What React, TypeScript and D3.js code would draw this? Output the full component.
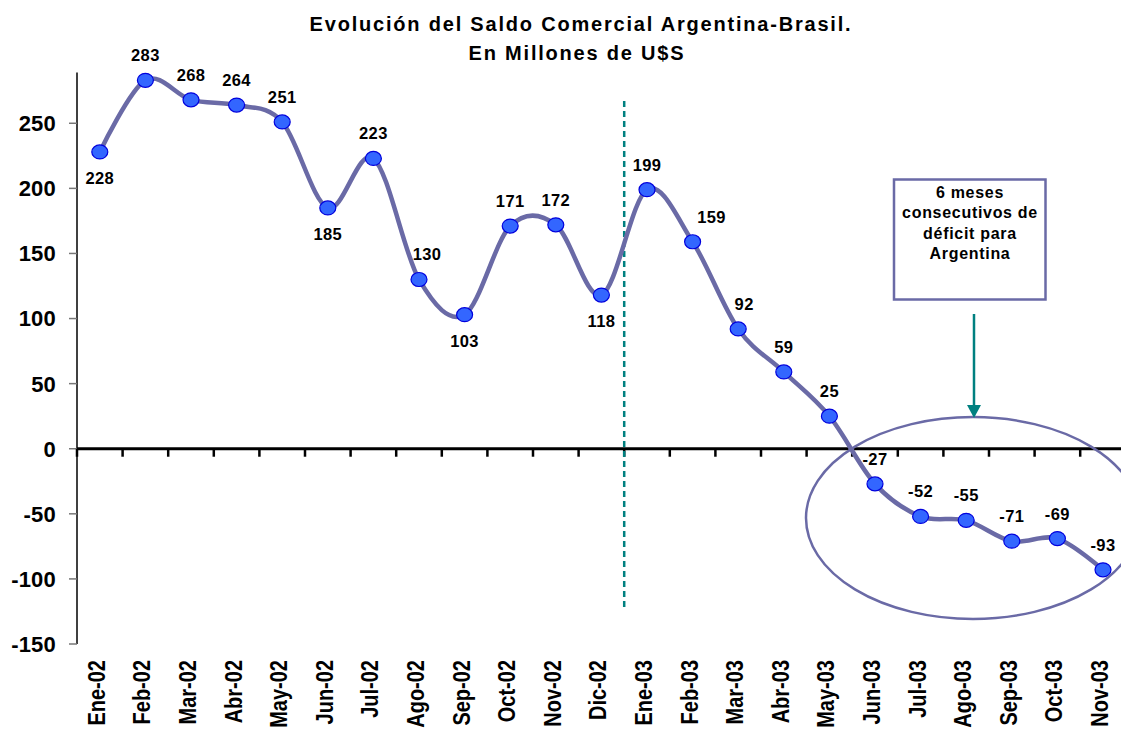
import React from 'react';
import * as d3 from 'd3';

const months = ['Ene-02','Feb-02','Mar-02','Abr-02','May-02','Jun-02','Jul-02','Ago-02','Sep-02','Oct-02','Nov-02','Dic-02','Ene-03','Feb-03','Mar-03','Abr-03','May-03','Jun-03','Jul-03','Ago-03','Sep-03','Oct-03','Nov-03'];
const saldo = [228,283,268,264,251,185,223,130,103,171,172,118,199,159,92,59,25,-27,-52,-55,-71,-69,-93];
const labelBelow = [true,false,false,false,false,true,false,false,true,false,false,true,false,false,false,false,false,false,false,false,false,false,false];
const labelShift = [0,0,0,0,0,0,0,8,0,0,0,0,0,19,6,0,0,0,0,0,0,0,0];
const yTicks = [250,200,150,100,50,0,-50,-100,-150];
const titleLines = ['Evolución del Saldo Comercial Argentina-Brasil.', 'En Millones de U$S'];
const noteLines = ['6 meses', 'consecutivos de', 'déficit para', 'Argentina'];

const W = 1121, H = 729;
const FONT = '"Liberation Sans", Arial, Helvetica, sans-serif';
const LINE_COLOR = '#6a6aa6';
const TEAL = '#008080';

export default function App() {
  const x = d3.scaleBand<string>().domain(months).range([77, 77 + 45.6 * months.length]).padding(0);
  const y = d3.scaleLinear().domain([-150, 289]).range([644, 72.5]);
  const cx = (i: number) => (x(months[i]) as number) + x.bandwidth() / 2;

  const line = d3.line<number>()
    .x((_, i) => cx(i))
    .y(d => y(d))
    .curve(d3.curveCardinal.tension(0));

  const boundaries = months.map((m) => x(m) as number);
  const splitX = x('Ene-03') as number;
  const ellipse = { cx: 973, cy: 518, rx: 167, ry: 101 };

  return (
    <svg width={W} height={H} style={{ position: 'absolute', left: 0, top: 0, display: 'block', background: '#fff' }} fontFamily={FONT}>
      <rect x={0} y={0} width={W} height={H} fill="#fff" />
      {/* Title */}
      <text x={581} y={31} textAnchor="middle" fontSize={20} fontWeight="bold" letterSpacing={1.8} fill="#000">{titleLines[0]}</text>
      <text x={577} y={60} textAnchor="middle" fontSize={20} fontWeight="bold" letterSpacing={1.8} fill="#000">{titleLines[1]}</text>

      {/* Y axis */}
      <line x1={77} x2={77} y1={y(289)} y2={y(-150)} stroke="#000" strokeWidth={1.5} />
      {yTicks.map(t => (
        <g key={t}>
          <line x1={69} x2={77} y1={y(t)} y2={y(t)} stroke="#777" strokeWidth={1.5} />
          <text x={56} y={y(t)} dy="0.36em" textAnchor="end" fontSize={22} fontWeight="bold" letterSpacing={0.2} fill="#000">{t}</text>
        </g>
      ))}

      {/* X axis */}
      <line x1={77} x2={W} y1={y(0)} y2={y(0)} stroke="#000" strokeWidth={3} />
      {boundaries.map((b, i) => (
        <line key={i} x1={b} x2={b} y1={y(0)} y2={y(0) + 8} stroke="#000" strokeWidth={2.5} />
      ))}
      {months.map((m, i) => (
        <text key={m} transform={`translate(${cx(i) - 3},660) rotate(-90) scale(1,1.15)`} dy="0.35em" textAnchor="end" fontSize={20} fontWeight="bold" fill="#000">{m}</text>
      ))}

      {/* Dashed separator */}
      <line x1={splitX} x2={splitX} y1={101} y2={609} stroke={TEAL} strokeWidth={2.5} strokeDasharray="6 4" />

      {/* Series */}
      <path d={line(saldo) || ''} fill="none" stroke={LINE_COLOR} strokeWidth={4.5} />
      {saldo.map((v, i) => (
        <ellipse key={i} cx={cx(i)} cy={y(v)} rx={8} ry={7} fill="#3366ff" stroke="#0000dd" strokeWidth={1.2} />
      ))}
      {saldo.map((v, i) => (
        <text key={'l' + i} x={cx(i) + labelShift[i]} y={y(v) + (labelBelow[i] ? 32 : -19)} textAnchor="middle" fontSize={16.5} fontWeight="bold" letterSpacing={0.4} fill="#000">{v}</text>
      ))}

      {/* Ellipse highlight */}
      <ellipse cx={ellipse.cx} cy={ellipse.cy} rx={ellipse.rx} ry={ellipse.ry} fill="none" stroke={LINE_COLOR} strokeWidth={2.5} />

      {/* Arrow */}
      <line x1={974} x2={974} y1={314} y2={406} stroke={TEAL} strokeWidth={2.5} />
      <path d="M967,405 L981,405 L974,418 Z" fill={TEAL} />

      {/* Note box */}
      <rect x={894} y={179.5} width={151.5} height={120} fill="#fff" stroke={LINE_COLOR} strokeWidth={2.5} />
      {noteLines.map((t, i) => (
        <text key={t} x={970} y={198 + i * 20.4} textAnchor="middle" fontSize={16} fontWeight="bold" letterSpacing={0.7} fill="#000">{t}</text>
      ))}
    </svg>
  );
}
